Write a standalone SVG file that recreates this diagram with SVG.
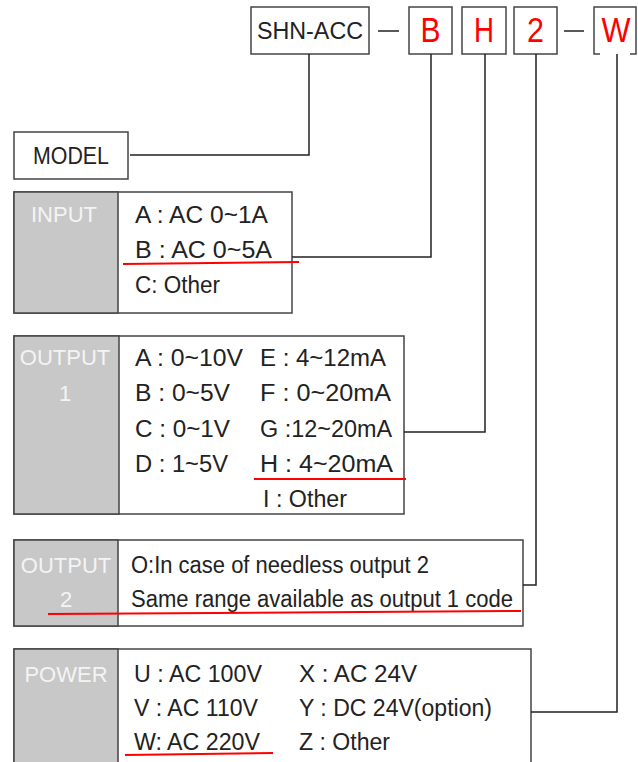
<svg xmlns="http://www.w3.org/2000/svg" width="638" height="762" viewBox="0 0 638 762">
<style>
.box{fill:#fff;stroke:#444;stroke-width:1.5}
.gray{fill:#c8c8c8;stroke:#444;stroke-width:1.5}
.t{font-family:"Liberation Sans",Arial,sans-serif;font-size:23.5px;fill:#222}
.lbl{font-family:"Liberation Sans",Arial,sans-serif;font-size:22px;fill:#f4f4f4;text-anchor:middle}
.red{font-family:"Liberation Sans",Arial,sans-serif;font-size:35px;fill:#ff0000;text-anchor:middle}
.conn{fill:none;stroke:#222;stroke-width:1.5}
.ul{fill:none;stroke:#ff0000;stroke-width:2}
</style>
<rect width="638" height="762" fill="#fff"/>

<g id="code-model">
<rect class="box" x="251" y="7" width="118" height="47"/>
<text class="t" x="257" y="39" textLength="106" lengthAdjust="spacingAndGlyphs">SHN-ACC</text>
</g>
<g id="code-input">
<rect class="box" x="409" y="7" width="43" height="47"/>
<text class="red" x="430.5" y="42" textLength="20" lengthAdjust="spacingAndGlyphs">B</text>
</g>
<g id="code-output1">
<rect class="box" x="462" y="7" width="44" height="47"/>
<text class="red" x="484" y="42" textLength="20" lengthAdjust="spacingAndGlyphs">H</text>
</g>
<g id="code-output2">
<rect class="box" x="514" y="7" width="43" height="47"/>
<text class="red" x="535.5" y="42" textLength="17" lengthAdjust="spacingAndGlyphs">2</text>
</g>
<g id="code-power">
<path d="M600,54 H594 V7 H636 V54 H630" fill="none" stroke="#444" stroke-width="1.5"/>
<text class="red" x="616" y="42" textLength="29" lengthAdjust="spacingAndGlyphs">W</text>
</g>

<g id="model">
<rect class="box" x="14" y="132" width="114" height="47"/>
<text class="t" x="33" y="164" textLength="76" lengthAdjust="spacingAndGlyphs">MODEL</text>
</g>

<g id="input">
<rect class="box" x="14" y="192" width="278" height="121"/>
<rect class="gray" x="14" y="192" width="104" height="121"/>
<text class="lbl" x="64" y="222">INPUT</text>
<text class="t" x="135" y="223" textLength="133" lengthAdjust="spacingAndGlyphs">A : AC 0~1A</text>
<text class="t" x="135" y="258" textLength="137" lengthAdjust="spacingAndGlyphs">B : AC 0~5A</text>
<text class="t" x="135" y="293" textLength="85" lengthAdjust="spacingAndGlyphs">C: Other</text>
</g>

<g id="output1">
<rect class="box" x="14" y="336" width="390" height="178"/>
<rect class="gray" x="14" y="336" width="105" height="178"/>
<text class="lbl" x="65" y="365">OUTPUT</text>
<text class="lbl" x="65" y="401">1</text>
<text class="t" x="135" y="366" textLength="108" lengthAdjust="spacingAndGlyphs">A : 0~10V</text>
<text class="t" x="135" y="401" textLength="95" lengthAdjust="spacingAndGlyphs">B : 0~5V</text>
<text class="t" x="135" y="437" textLength="95" lengthAdjust="spacingAndGlyphs">C : 0~1V</text>
<text class="t" x="135" y="472" textLength="93" lengthAdjust="spacingAndGlyphs">D : 1~5V</text>
<text class="t" x="260" y="366" textLength="126" lengthAdjust="spacingAndGlyphs">E : 4~12mA</text>
<text class="t" x="260" y="401" textLength="131" lengthAdjust="spacingAndGlyphs">F : 0~20mA</text>
<text class="t" x="260" y="437" textLength="132" lengthAdjust="spacingAndGlyphs">G :12~20mA</text>
<text class="t" x="260" y="472" textLength="133" lengthAdjust="spacingAndGlyphs">H : 4~20mA</text>
<text class="t" x="263" y="507" textLength="84" lengthAdjust="spacingAndGlyphs">I : Other</text>
</g>

<g id="output2">
<rect class="box" x="14" y="540" width="509" height="86"/>
<rect class="gray" x="14" y="540" width="104" height="86"/>
<text class="lbl" x="66" y="573">OUTPUT</text>
<text class="lbl" x="66" y="607">2</text>
<text class="t" x="131" y="573" textLength="298" lengthAdjust="spacingAndGlyphs">O:In case of needless output 2</text>
<text class="t" x="131" y="607" textLength="382" lengthAdjust="spacingAndGlyphs">Same range available as output 1 code</text>
</g>

<g id="power">
<rect class="box" x="14" y="649" width="517" height="125"/>
<rect class="gray" x="14" y="649" width="104" height="125"/>
<text class="lbl" x="66" y="682">POWER</text>
<text class="t" x="134" y="682" textLength="128" lengthAdjust="spacingAndGlyphs">U : AC 100V</text>
<text class="t" x="134" y="716" textLength="124" lengthAdjust="spacingAndGlyphs">V : AC 110V</text>
<text class="t" x="134" y="750" textLength="126" lengthAdjust="spacingAndGlyphs">W: AC 220V</text>
<text class="t" x="299" y="682" textLength="118" lengthAdjust="spacingAndGlyphs">X : AC 24V</text>
<text class="t" x="299" y="716" textLength="193" lengthAdjust="spacingAndGlyphs">Y : DC 24V(option)</text>
<text class="t" x="299" y="750" textLength="91" lengthAdjust="spacingAndGlyphs">Z : Other</text>
</g>

<g id="connectors">
<line class="conn" x1="378" y1="31" x2="399" y2="31"/>
<line class="conn" x1="564" y1="31" x2="584" y2="31"/>
<polyline class="conn" points="309,54 309,155 130,155"/>
<polyline class="conn" points="431,54 431,257 292,257"/>
<polyline class="conn" points="485,54 485,432 404,432"/>
<polyline class="conn" points="536,54 536,585 523,585"/>
<polyline class="conn" points="617,54 617,712 531,712"/>
</g>

<g id="highlights">
<line class="ul" x1="123" y1="264" x2="299" y2="262"/>
<line class="ul" x1="254" y1="479" x2="406" y2="479"/>
<line class="ul" x1="48" y1="614" x2="521" y2="611"/>
<line class="ul" x1="125" y1="755" x2="273" y2="753"/>
</g>
</svg>
